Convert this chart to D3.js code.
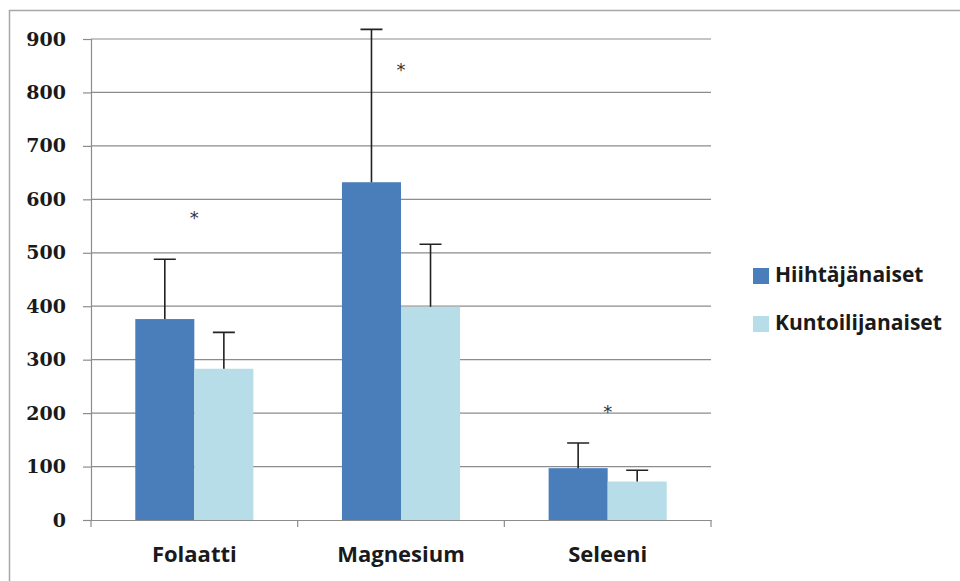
<!DOCTYPE html>
<html>
<head>
<meta charset="utf-8">
<script src="https://cdn.jsdelivr.net/npm/d3@7"></script>
<style>
  body { margin: 0; background: #fff; }
</style>
</head>
<body>
<div id="chart"></div>
<script>
// chart data
const categories = ['Folaatti', 'Magnesium', 'Seleeni'];
const seriesNames = ['Hiihtäjänaiset', 'Kuntoilijanaiset'];
const hiihtajat = [376, 632, 97];
const hiihtajatSD = [112, 286, 47];
const kuntoilijat = [283, 399, 72];
const kuntoilijatSD = [68, 117, 21];
const starLevels = [578, 855, 215];
const yTicks = [0, 100, 200, 300, 400, 500, 600, 700, 800, 900];

const colors = ['#4a7ebb', '#b7dde8'];

const width = 960, height = 581;
const margin = {top: 39, left: 91, right: 249, bottom: 61};
const innerW = width - margin.left - margin.right;
const innerH = height - margin.top - margin.bottom;

const svg = d3.select('#chart').append('svg')
    .attr('width', width)
    .attr('height', height);

// outer frame (cut by the image edge on right and bottom)
svg.append('rect')
    .attr('x', 9.5).attr('y', 10.5)
    .attr('width', 1000).attr('height', 1000)
    .attr('fill', 'none')
    .attr('stroke', '#a6a6a6')
    .attr('stroke-width', 1.5);

const g = svg.append('g')
    .attr('transform', `translate(${margin.left},${margin.top})`);

const x0 = d3.scaleBand().domain(categories).range([0, innerW]).paddingInner(0).paddingOuter(0);
const x1 = d3.scaleBand().domain(seriesNames).range([0, x0.bandwidth()]).paddingInner(0).paddingOuter(0.75);
const y = d3.scaleLinear().domain([0, 900]).range([innerH, 0]);

// gridlines + y axis
const yAxis = d3.axisLeft(y).tickValues(yTicks).tickSize(8).tickPadding(17);
const yg = g.append('g').call(yAxis);
yg.select('.domain').attr('stroke', '#8c8c8c').attr('stroke-width', 1.2);
yg.selectAll('.tick line').attr('stroke', '#8c8c8c').attr('stroke-width', 1.2);
yg.selectAll('.tick text')
    .style('font-family', '"DejaVu Serif", serif')
    .style('font-weight', 'bold')
    .style('font-size', '19px')
    .attr('fill', '#1a1a1a');

g.append('g').selectAll('line.grid')
    .data(yTicks.filter(d => d > 0))
    .join('line')
    .classed('grid', true)
    .attr('x1', 0).attr('x2', innerW)
    .attr('y1', d => y(d)).attr('y2', d => y(d))
    .attr('stroke', '#8c8c8c')
    .attr('stroke-width', 1.2);

// bars
const rows = categories.map((c, i) => ({
    cat: c,
    vals: [
        {s: seriesNames[0], v: hiihtajat[i], sd: hiihtajatSD[i], c: colors[0]},
        {s: seriesNames[1], v: kuntoilijat[i], sd: kuntoilijatSD[i], c: colors[1]}
    ],
    star: starLevels[i]
}));

const grp = g.append('g').selectAll('g.cat')
    .data(rows)
    .join('g')
    .classed('cat', true)
    .attr('transform', d => `translate(${x0(d.cat)},0)`);

grp.selectAll('rect')
    .data(d => d.vals)
    .join('rect')
    .attr('x', d => x1(d.s))
    .attr('y', d => y(d.v))
    .attr('width', x1.bandwidth())
    .attr('height', d => innerH - y(d.v))
    .attr('fill', d => d.c);

// error bars (upper only)
const cap = 11;
grp.selectAll('path.err')
    .data(d => d.vals)
    .join('path')
    .classed('err', true)
    .attr('d', d => {
        const cx = x1(d.s) + x1.bandwidth() / 2;
        return `M${cx},${y(d.v)}V${y(d.v + d.sd)}M${cx - cap},${y(d.v + d.sd)}H${cx + cap}`;
    })
    .attr('stroke', '#222')
    .attr('stroke-width', 1.6)
    .attr('fill', 'none');

// significance stars
grp.append('text')
    .attr('x', x0.bandwidth() / 2)
    .attr('y', d => y(d.star))
    .attr('dy', '0.72em')
    .attr('text-anchor', 'middle')
    .style('font-family', '"DejaVu Sans", sans-serif')
    .style('font-size', '18px')
    .attr('fill', '#333')
    .text('*');

// x axis
const xAxis = d3.axisBottom(x0).tickSize(0);
const xg = g.append('g').attr('transform', `translate(0,${innerH})`).call(xAxis);
xg.select('.domain').attr('stroke', '#8c8c8c').attr('stroke-width', 1.2);
xg.selectAll('.tick text')
    .attr('y', 42)
    .attr('dy', null)
    .style('font-family', '"Open Sans", sans-serif')
    .style('font-weight', 'bold')
    .style('font-size', '22px')
    .attr('fill', '#1a1a1a');
xg.selectAll('line.sep')
    .data(d3.range(categories.length + 1))
    .join('line')
    .classed('sep', true)
    .attr('x1', i => i * x0.bandwidth()).attr('x2', i => i * x0.bandwidth())
    .attr('y1', 0).attr('y2', 7)
    .attr('stroke', '#8c8c8c')
    .attr('stroke-width', 1.2);

// legend
const legend = svg.append('g').attr('transform', 'translate(753,268)');
const li = legend.selectAll('g')
    .data(seriesNames)
    .join('g')
    .attr('transform', (d, i) => `translate(0,${i * 48})`);
li.append('rect')
    .attr('width', 16).attr('height', 16)
    .attr('fill', (d, i) => colors[i]);
li.append('text')
    .attr('x', 22).attr('y', 14)
    .style('font-family', '"Open Sans", sans-serif')
    .style('font-weight', 'bold')
    .style('font-size', '21px')
    .attr('fill', '#1a1a1a')
    .text(d => d);
</script>
</body>
</html>
